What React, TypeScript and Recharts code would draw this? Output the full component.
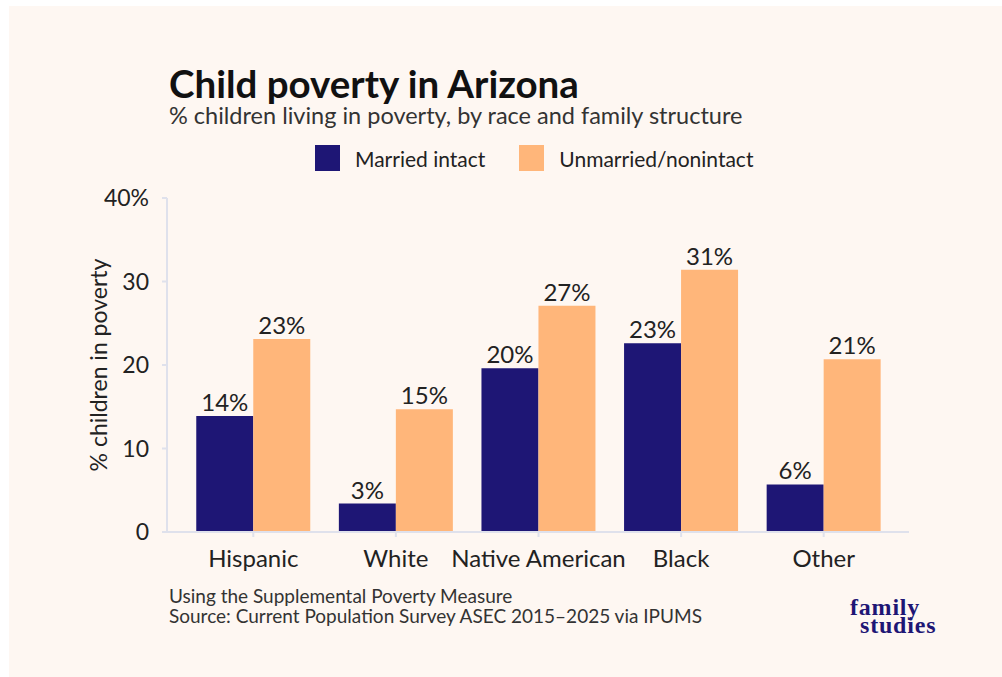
import { BarChart, Bar, XAxis, YAxis, LabelList } from 'recharts'

const categories = ['Hispanic', 'White', 'Native American', 'Black', 'Other']
const marriedIntact = [13.9, 3.4, 19.6, 22.6, 5.7]
const unmarriedNonintact = [23.1, 14.7, 27.1, 31.4, 20.7]
const yTicks = [0, 10, 20, 30, 40]
const seriesNames = ['Married intact', 'Unmarried/nonintact']

const NAVY = '#1e1675'
const ORANGE = '#ffb67a'
const AXIS = '#dfe1ec'
const BG = '#fef7f2'
const FONT = 'Lato, "Noto Sans", sans-serif'
const seriesColors = [NAVY, ORANGE]

const data = categories.map((name, i) => ({
  name,
  married: marriedIntact[i],
  unmarried: unmarriedNonintact[i],
}))

function formatPercent(value: unknown) {
  const n = Number(value)
  if (!Number.isFinite(n)) {
    return ''
  }
  return `${Math.round(n)}%`
}

export default function App() {
  return (
    <div
      style={{
        position: 'absolute',
        left: 9,
        top: 6,
        width: 993,
        height: 671,
        background: BG,
        fontFamily: FONT,
      }}
    >
      <div
        style={{
          position: 'absolute',
          left: 160,
          top: 58.2,
          fontSize: 38.5,
          lineHeight: 1,
          fontWeight: 700,
          color: '#111',
          whiteSpace: 'nowrap',
        }}
      >
        Child poverty in Arizona
      </div>
      <div
        style={{
          position: 'absolute',
          left: 160,
          top: 98.2,
          fontSize: 23.5,
          lineHeight: 1,
          color: '#333',
          whiteSpace: 'nowrap',
        }}
      >
        % children living in poverty, by race and family structure
      </div>

      {/* legend */}
      <div
        style={{
          position: 'absolute',
          left: 306,
          top: 139,
          height: 26,
          display: 'flex',
          alignItems: 'center',
          gap: 34,
          whiteSpace: 'nowrap',
        }}
      >
        {seriesNames.map((label, i) => (
          <div key={label} style={{ display: 'flex', alignItems: 'center' }}>
            <span style={{ width: 25, height: 26, background: seriesColors[i], display: 'inline-block' }} />
            <span style={{ marginLeft: 15, fontSize: 21, color: '#222' }}>{label}</span>
          </div>
        ))}
      </div>

      <BarChart
        width={993}
        height={671}
        data={data}
        margin={{ top: 192, right: 93, bottom: 105, left: 80 }}
        barCategoryGap="10%"
        barGap={0}
        style={{ position: 'absolute', left: 0, top: 0 }}
      >
        <XAxis
          dataKey="name"
          height={40}
          padding={{ left: 15, right: 14 }}
          axisLine={{ stroke: AXIS, strokeWidth: 2 }}
          tickLine={{ stroke: AXIS, strokeWidth: 2 }}
          tickSize={5}
          tickMargin={13}
          tick={{ fill: '#222', fontSize: 24, fontFamily: FONT }}
          interval={0}
        />
        <YAxis
          width={78}
          domain={[0, 40]}
          ticks={yTicks}
          axisLine={{ stroke: AXIS, strokeWidth: 2 }}
          tickLine={{ stroke: AXIS, strokeWidth: 2 }}
          tickSize={5}
          tickMargin={13}
          tick={{ fill: '#222', fontSize: 23, fontFamily: FONT }}
          tickFormatter={(v: number) => (v === 40 ? '40%' : String(v))}
          label={{
            value: '% children in poverty',
            angle: -90,
            position: 'insideLeft',
            offset: 10,
            style: { textAnchor: 'middle', fill: '#222', fontSize: 23, fontFamily: FONT },
          }}
        />
        <Bar dataKey="married" name={seriesNames[0]} fill={NAVY} isAnimationActive={false}>
          <LabelList
            dataKey="married"
            position="top"
            offset={5}
            fill="#222"
            fontSize={24}
            fontFamily={FONT}
            formatter={formatPercent}
          />
        </Bar>
        <Bar dataKey="unmarried" name={seriesNames[1]} fill={ORANGE} isAnimationActive={false}>
          <LabelList
            dataKey="unmarried"
            position="top"
            offset={5}
            fill="#222"
            fontSize={24}
            fontFamily={FONT}
            formatter={formatPercent}
          />
        </Bar>
      </BarChart>

      <div
        style={{
          position: 'absolute',
          left: 160,
          top: 580.2,
          fontSize: 19,
          lineHeight: '19.5px',
          color: '#333',
          whiteSpace: 'nowrap',
        }}
      >
        <div>Using the Supplemental Poverty Measure</div>
        <div>Source: Current Population Survey ASEC 2015–2025 via IPUMS</div>
      </div>

      <div
        style={{
          position: 'absolute',
          left: 841,
          top: 592,
          fontFamily: '"Liberation Serif", "DejaVu Serif", serif',
          fontWeight: 700,
          fontSize: 24,
          lineHeight: '18px',
          letterSpacing: 0.8,
          color: NAVY,
        }}
      >
        <div>family</div>
        <div style={{ marginLeft: 10 }}>studies</div>
      </div>
    </div>
  )
}
